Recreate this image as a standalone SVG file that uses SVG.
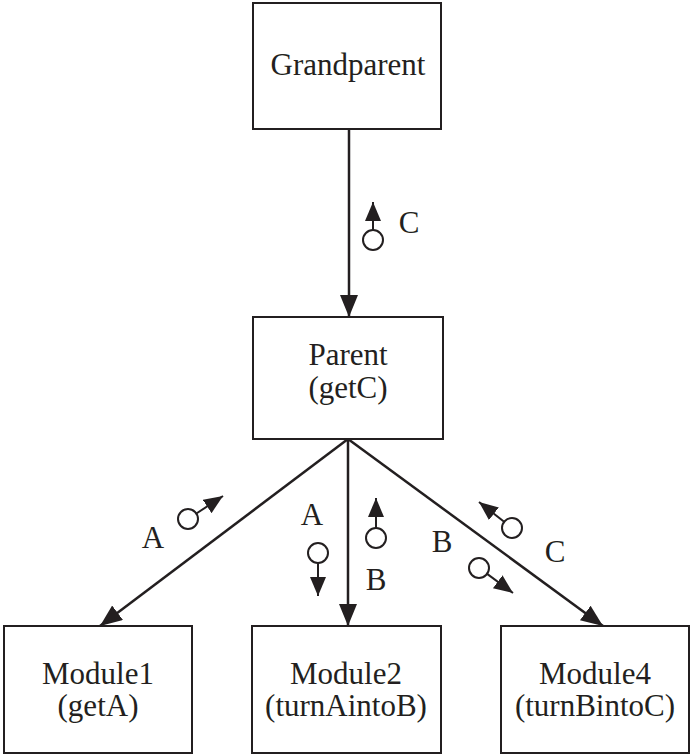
<svg xmlns="http://www.w3.org/2000/svg" width="691" height="755" viewBox="0 0 691 755">
  <style>
    .box { fill: #ffffff; stroke: #231f20; stroke-width: 2; }
    .lbl { font-family: "Liberation Serif", "Times New Roman", serif; font-size: 31px; fill: #231f20; text-anchor: middle; }
    .edge { stroke: #231f20; stroke-width: 2.5; fill: none; }
    .flow { stroke: #231f20; stroke-width: 2; fill: none; }
    .port { fill: #ffffff; stroke: #231f20; stroke-width: 2; }
  </style>
  <defs>
    <marker id="head" markerUnits="userSpaceOnUse" markerWidth="24" markerHeight="20" refX="22" refY="9" orient="auto">
      <path d="M0,0 L22,9 L0,18 Z" fill="#231f20"/>
    </marker>
    <marker id="small" markerUnits="userSpaceOnUse" markerWidth="20" markerHeight="18" refX="19" refY="8" orient="auto">
      <path d="M0,0 L19,8 L0,16 Z" fill="#231f20"/>
    </marker>
  </defs>

  <!-- call-tree connectors -->
  <g id="connectors">
    <line class="edge" x1="349" y1="129" x2="349" y2="317" marker-end="url(#head)"/>
    <line class="edge" x1="348" y1="439" x2="100" y2="626" marker-end="url(#head)"/>
    <line class="edge" x1="348" y1="439" x2="348" y2="626" marker-end="url(#head)"/>
    <line class="edge" x1="348" y1="439" x2="603" y2="626" marker-end="url(#head)"/>

    <!-- data couples: open circle = data, arrow = direction of flow -->
    <g id="couple-gp-c">
      <circle class="port" cx="373" cy="240" r="10"/>
      <line class="flow" x1="373" y1="230" x2="373" y2="202" marker-end="url(#small)"/>
      <text class="lbl" x="409" y="233">C</text>
    </g>
    <g id="couple-m1-a">
      <circle class="port" cx="188" cy="519" r="10"/>
      <line class="flow" x1="196.4" y1="513.5" x2="223" y2="496" marker-end="url(#small)"/>
      <text class="lbl" x="153" y="548">A</text>
    </g>
    <g id="couple-m2-a">
      <circle class="port" cx="318" cy="553" r="10"/>
      <line class="flow" x1="318" y1="563" x2="318" y2="596" marker-end="url(#small)"/>
      <text class="lbl" x="312" y="525">A</text>
    </g>
    <g id="couple-m2-b">
      <circle class="port" cx="376" cy="538" r="10"/>
      <line class="flow" x1="376" y1="528" x2="376" y2="498" marker-end="url(#small)"/>
      <text class="lbl" x="376" y="590">B</text>
    </g>
    <g id="couple-m4-b">
      <circle class="port" cx="479" cy="568" r="10"/>
      <line class="flow" x1="487.1" y1="573.9" x2="513" y2="593" marker-end="url(#small)"/>
      <text class="lbl" x="442" y="552">B</text>
    </g>
    <g id="couple-m4-c">
      <circle class="port" cx="512" cy="528" r="10"/>
      <line class="flow" x1="504.1" y1="521.8" x2="479" y2="502" marker-end="url(#small)"/>
      <text class="lbl" x="555" y="562">C</text>
    </g>
  </g>

  <g id="grandparent">
    <rect class="box" x="253" y="3" width="188" height="126"/>
    <text class="lbl" x="348" y="75">Grandparent</text>
  </g>

  <g id="parent">
    <rect class="box" x="253" y="317" width="190" height="122"/>
    <text class="lbl" x="348" y="365">Parent</text>
    <text class="lbl" x="348" y="398">(getC)</text>
  </g>

  <g id="module1">
    <rect class="box" x="4" y="626" width="188" height="127"/>
    <text class="lbl" x="98" y="684">Module1</text>
    <text class="lbl" x="98" y="716">(getA)</text>
  </g>

  <g id="module2">
    <rect class="box" x="252" y="626" width="189" height="127"/>
    <text class="lbl" x="346" y="684">Module2</text>
    <text class="lbl" x="346" y="716">(turnAintoB)</text>
  </g>

  <g id="module4">
    <rect class="box" x="501" y="626" width="188" height="127"/>
    <text class="lbl" x="595" y="684">Module4</text>
    <text class="lbl" x="595" y="716">(turnBintoC)</text>
  </g>
</svg>
